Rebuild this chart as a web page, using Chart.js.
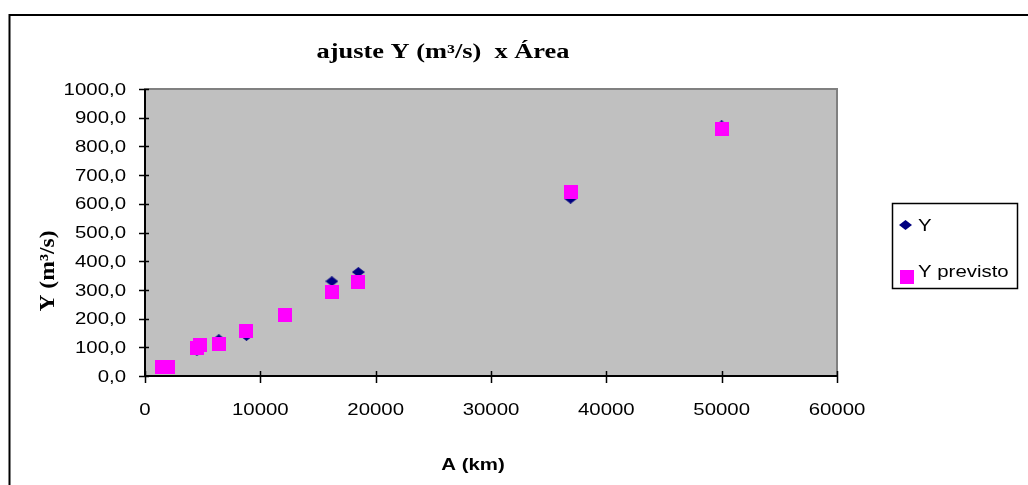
<!DOCTYPE html>
<html>
<head>
<meta charset="utf-8">
<script src="https://cdn.jsdelivr.net/npm/chart.js@4/dist/chart.umd.min.js"></script>
<style>
html,body{margin:0;padding:0;background:#fff;}
canvas{display:block;}
</style>
</head>
<body>
<canvas id="c" width="1028" height="485"></canvas>
<script>
const areas = [1500, 2000, 4500, 4800, 6400, 8800, 12100, 16200, 18500, 36900, 50000];
const yObserved = [33, 40, 88, 108, 128, 140, 205, 330, 362, 618, 873];
const yPredicted = [33, 33, 99, 109, 113, 158, 214, 291, 326, 642, 862];
const yTickValues = [0, 100, 200, 300, 400, 500, 600, 700, 800, 900, 1000];
const xTickValues = [0, 10000, 20000, 30000, 40000, 50000, 60000];
const titleText = 'ajuste Y (m³/s)  x Área';
const xTitleText = 'A (km)';
const yTitleText = 'Y (m³/s)';
const seriesNames = ['Y', 'Y previsto'];

const SX = 1.2;
function diamondImg() {
  const c = document.createElement('canvas');
  c.width = 13; c.height = 10;
  const g = c.getContext('2d');
  g.fillStyle = '#000080';
  g.beginPath();
  g.moveTo(6.5, 0); g.lineTo(13, 5); g.lineTo(6.5, 10); g.lineTo(0, 5); g.closePath();
  g.fill();
  return c;
}
function squareImg() {
  const c = document.createElement('canvas');
  c.width = 14; c.height = 14;
  const g = c.getContext('2d');
  g.fillStyle = '#FF00FF';
  g.fillRect(0, 0, 14, 14);
  return c;
}
const dia = diamondImg();
const sq = squareImg();

function txt(ctx, s, x, y, align, font, sx) {
  ctx.save();
  ctx.font = font;
  ctx.fillStyle = '#000';
  ctx.textBaseline = 'middle';
  ctx.textAlign = align;
  ctx.translate(x, y);
  ctx.scale(sx === undefined ? SX : sx, 1);
  ctx.fillText(s, 0, 0);
  ctx.restore();
}
function fmtY(v) { return v.toFixed(1).replace('.', ','); }

const deco = {
  id: 'deco',
  beforeDraw(chart) {
    const ctx = chart.ctx, a = chart.chartArea;
    ctx.save();
    ctx.fillStyle = '#fff';
    ctx.fillRect(0, 0, chart.width, chart.height);
    ctx.strokeStyle = '#000';
    ctx.lineWidth = 2;
    ctx.beginPath();
    ctx.moveTo(9.5, 490); ctx.lineTo(9.5, 15); ctx.lineTo(1030, 15);
    ctx.stroke();
    ctx.fillStyle = '#C0C0C0';
    ctx.fillRect(a.left, a.top, a.right - a.left, a.bottom - a.top);
    ctx.strokeStyle = '#808080';
    ctx.lineWidth = 2;
    ctx.strokeRect(a.left, a.top, a.right - a.left, a.bottom - a.top);
    ctx.restore();
  },
  afterDraw(chart) {
    const ctx = chart.ctx, a = chart.chartArea;
    const xs = chart.scales.x, ys = chart.scales.y;
    ctx.save();
    ctx.strokeStyle = '#000';
    ctx.lineWidth = 2;
    ctx.beginPath();
    ctx.moveTo(a.left, a.top); ctx.lineTo(a.left, a.bottom); ctx.lineTo(a.right, a.bottom);
    ctx.stroke();
    ctx.lineWidth = 1.5;
    ctx.beginPath();
    yTickValues.forEach(v => {
      const p = Math.round(ys.getPixelForValue(v)) + 0.5;
      ctx.moveTo(a.left - 6, p); ctx.lineTo(a.left + 4, p);
    });
    xTickValues.forEach(v => {
      const p = Math.round(xs.getPixelForValue(v)) + 0.5;
      ctx.moveTo(p, a.bottom - 5); ctx.lineTo(p, a.bottom + 7);
    });
    ctx.stroke();
    ctx.restore();
    const tf = '17px "Liberation Sans", Arial, sans-serif';
    yTickValues.forEach(v => {
      txt(ctx, fmtY(v), 126, ys.getPixelForValue(v) + 1, 'right', tf);
    });
    xTickValues.forEach(v => {
      txt(ctx, String(v), xs.getPixelForValue(v), 410, 'center', tf);
    });
    txt(ctx, titleText, 443, 53, 'center', 'bold 20px "Liberation Serif", "Times New Roman", serif', 1.32);
    txt(ctx, xTitleText, 473, 465, 'center', 'bold 17px "Liberation Sans", Arial, sans-serif');
    ctx.save();
    ctx.translate(48, 271);
    ctx.rotate(-Math.PI / 2);
    ctx.font = 'bold 20px "Liberation Serif", "Times New Roman", serif';
    ctx.fillStyle = '#000';
    ctx.textAlign = 'center';
    ctx.textBaseline = 'middle';
    ctx.scale(1.18, 1.1);
    ctx.fillText(yTitleText, 0, 0);
    ctx.restore();
    // legend
    ctx.save();
    ctx.strokeStyle = '#000';
    ctx.lineWidth = 1.5;
    ctx.strokeRect(892.5, 203.5, 125, 85);
    ctx.drawImage(dia, 899, 220);
    ctx.drawImage(sq, 900, 270);
    ctx.restore();
    txt(ctx, seriesNames[0], 918, 226, 'left', tf);
    txt(ctx, seriesNames[1], 918, 272, 'left', tf);
  }
};

new Chart(document.getElementById('c'), {
  type: 'scatter',
  data: {
    datasets: [
      {
        label: seriesNames[0],
        data: areas.map((x, i) => ({ x: x, y: yObserved[i] })),
        pointStyle: dia,
        order: 2
      },
      {
        label: seriesNames[1],
        data: areas.map((x, i) => ({ x: x, y: yPredicted[i] })),
        pointStyle: sq,
        order: 1
      }
    ]
  },
  options: {
    responsive: false,
    animation: false,
    devicePixelRatio: 1,
    layout: { padding: { left: 0, top: 89, right: 191, bottom: 0 } },
    plugins: { legend: { display: false }, tooltip: { enabled: false }, title: { display: false } },
    scales: {
      x: {
        type: 'linear', min: 0, max: 60000,
        grid: { display: false, drawTicks: false },
        border: { display: false },
        ticks: { display: false, stepSize: 10000 },
        afterFit(s) { s.height = 109; }
      },
      y: {
        type: 'linear', min: 0, max: 1000,
        grid: { display: false, drawTicks: false },
        border: { display: false },
        ticks: { display: false, stepSize: 100 },
        afterFit(s) { s.width = 145; }
      }
    }
  },
  plugins: [deco]
});
</script>
</body>
</html>
